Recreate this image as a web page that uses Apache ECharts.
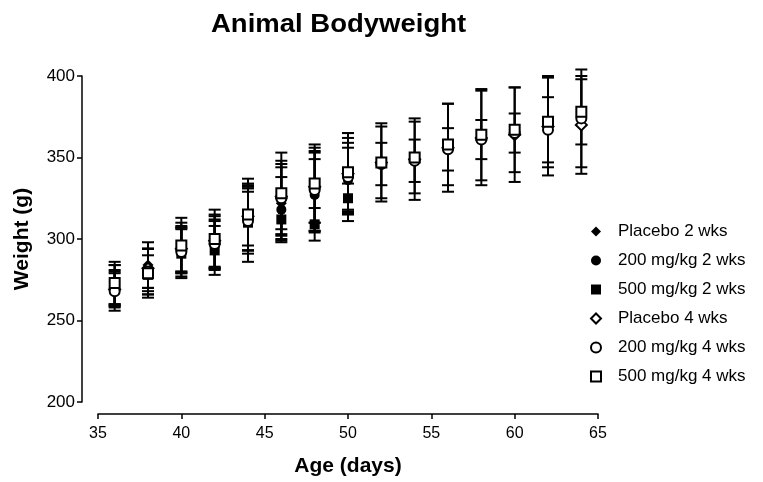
<!DOCTYPE html>
<html>
<head>
<meta charset="utf-8">
<script src="https://cdn.jsdelivr.net/npm/echarts@6/dist/echarts.min.js"></script>
<style>html,body{margin:0;padding:0;background:#fff}#c{width:763px;height:482px}</style>
</head>
<body>
<div id="c"></div>
<script>
// ---- data ----
const ages2 = [36, 38, 40, 42, 44, 46, 48, 50];
const ages4 = [36, 38, 40, 42, 44, 46, 48, 50, 52, 54, 56, 58, 60, 62, 64];

const placebo2Mean = [272, 284, 295, 298, 313, 322, 329, 337];
const placebo2Sd   = [12, 14, 15, 16, 20, 22, 24, 22];
const d200_2Mean   = [270, 281, 293, 296, 311, 318, 327, 336];
const d200_2Sd     = [11, 13, 14, 15, 18, 20, 22, 20];
const d500_2Mean   = [271, 278, 291, 293, 310, 312, 309, 325];
const d500_2Sd     = [13, 12, 15, 15, 24, 13, 10, 9];

const placebo4Mean = [269, 282, 294, 299, 314, 326, 332, 340, 347, 349, 356, 362, 364, 369, 370];
const placebo4Sd   = [10, 12, 14, 16, 18, 20, 22, 22, 24, 25, 27, 29, 29, 30, 30];
const d200_4Mean   = [268, 280, 292, 297, 311, 325, 330, 338, 346, 348, 355, 361, 365, 367, 374];
const d200_4Sd     = [12, 14, 15, 15, 20, 23, 26, 27, 13, 13, 13, 12, 12, 20, 30];
const d500_4Mean   = [273, 279, 296, 300, 315, 328, 334, 341, 347, 350, 358, 364, 367, 372, 378];
const d500_4Sd     = [13, 15, 17, 18, 22, 25, 24, 24, 22, 22, 25, 28, 26, 28, 20];

const seriesNames = ['Placebo 2 wks', '200 mg/kg 2 wks', '500 mg/kg 2 wks', 'Placebo 4 wks', '200 mg/kg 4 wks', '500 mg/kg 4 wks'];
const xTicks = [35, 40, 45, 50, 55, 60, 65];
const yTicks = [200, 250, 300, 350, 400];

// ---- build ----
const groups = [
  {name: seriesNames[0], x: ages2, m: placebo2Mean, s: placebo2Sd, sym: 'diamond', open: false, size: 11},
  {name: seriesNames[1], x: ages2, m: d200_2Mean, s: d200_2Sd, sym: 'circle', open: false, size: 10},
  {name: seriesNames[2], x: ages2, m: d500_2Mean, s: d500_2Sd, sym: 'rect', open: false, size: 10},
  {name: seriesNames[3], x: ages4, m: placebo4Mean, s: placebo4Sd, sym: 'diamond', open: true, size: 11},
  {name: seriesNames[4], x: ages4, m: d200_4Mean, s: d200_4Sd, sym: 'circle', open: true, size: 10},
  {name: seriesNames[5], x: ages4, m: d500_4Mean, s: d500_4Sd, sym: 'rect', open: true, size: 10}
];

const FONT = '"Liberation Sans", Arial, sans-serif';
const series = [];
groups.forEach(function (g) {
  series.push({
    name: g.name + ' err',
    type: 'custom',
    clip: false,
    silent: true,
    z: 1,
    data: g.x.map(function (x, i) { return [x, g.m[i], g.s[i]]; }),
    encode: {x: 0, y: 1},
    renderItem: function (params, api) {
      const x = api.value(0), m = api.value(1), s = api.value(2);
      const t = api.coord([x, m + s]);
      const b = api.coord([x, m - s]);
      const hw = 6;
      const st = {stroke: '#000', lineWidth: 2};
      return {
        type: 'group',
        children: [
          {type: 'line', shape: {x1: t[0], y1: t[1], x2: b[0], y2: b[1]}, style: st},
          {type: 'line', shape: {x1: t[0] - hw, y1: t[1], x2: t[0] + hw, y2: t[1]}, style: st},
          {type: 'line', shape: {x1: b[0] - hw, y1: b[1], x2: b[0] + hw, y2: b[1]}, style: st}
        ]
      };
    }
  });
});
groups.forEach(function (g) {
  series.push({
    name: g.name,
    type: 'scatter',
    symbol: g.sym,
    symbolSize: g.size,
    z: 3,
    itemStyle: g.open
      ? {color: '#fff', borderColor: '#000', borderWidth: 2, opacity: 1}
      : {color: '#000', borderColor: '#000', borderWidth: 0, opacity: 1},
    data: g.x.map(function (x, i) { return [x, g.m[i]]; })
  });
});

const chart = echarts.init(document.getElementById('c'));
chart.setOption({
  animation: false,
  backgroundColor: '#fff',
  graphic: [{
    type: 'text',
    left: 211, top: 13,
    scaleX: 1.1,
    style: {text: 'Animal Bodyweight', font: 'bold 25px "Liberation Sans", Arial, sans-serif', fill: '#000'}
  }],
  legend: {
    data: seriesNames,
    orient: 'vertical',
    left: 585, top: 218,
    itemWidth: 10, itemHeight: 10, itemGap: 12,
    textStyle: {fontFamily: FONT, fontSize: 17, color: '#000', padding: [0, 0, 0, 12]}
  },
  grid: {left: 98, right: 165, top: 76, bottom: 80, containLabel: false},
  xAxis: {
    type: 'value', min: 35, max: 65, interval: 5,
    offset: 12,
    name: 'Age (days)', nameLocation: 'middle', nameGap: 42,
    nameTextStyle: {fontFamily: FONT, fontSize: 21, fontWeight: 'bold', color: '#000'},
    axisLine: {show: true, lineStyle: {color: '#000', width: 1.5}},
    axisTick: {show: true, length: 5, lineStyle: {color: '#000', width: 1.5}},
    axisLabel: {fontFamily: FONT, fontSize: 16, color: '#000', margin: 12,
      formatter: function (v) { return xTicks.indexOf(v) >= 0 ? String(v) : ''; }},
    splitLine: {show: false}
  },
  yAxis: {
    type: 'value', min: 200, max: 400, interval: 50,
    offset: 16,
    name: 'Weight (g)', nameLocation: 'middle', nameGap: 49, nameRotate: 90,
    nameTextStyle: {fontFamily: FONT, fontSize: 21, fontWeight: 'bold', color: '#000'},
    axisLine: {show: true, lineStyle: {color: '#000', width: 1.5}},
    axisTick: {show: true, length: 5, lineStyle: {color: '#000', width: 1.5}},
    axisLabel: {fontFamily: FONT, fontSize: 17, color: '#000', margin: 7,
      formatter: function (v) { return yTicks.indexOf(v) >= 0 ? String(v) : ''; }},
    splitLine: {show: false}
  },
  series: series
});
</script>
</body>
</html>
